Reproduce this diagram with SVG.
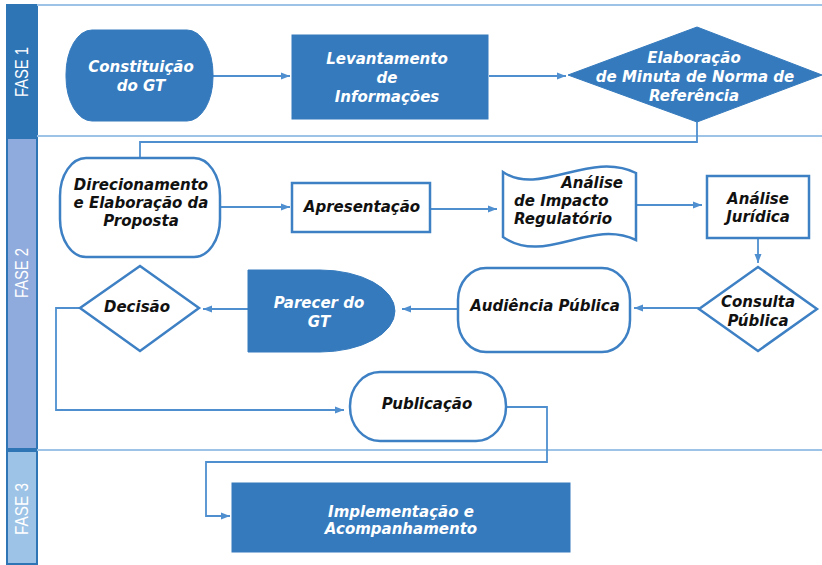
<svg xmlns="http://www.w3.org/2000/svg" width="822" height="565" viewBox="0 0 822 565">
<style>
.lane{stroke:#2E75B6;stroke-width:2}
.sep{stroke:#9DC3E6;stroke-width:2;fill:none}
.fase{font-family:'Liberation Sans Narrow','Liberation Sans',sans-serif;font-size:18px;fill:#ffffff;text-anchor:middle}
.fill{fill:#357ABD;stroke:#357ABD;stroke-width:1}
.out{fill:#ffffff;stroke:#3E80C4;stroke-width:2.5}
.tw{font-family:'DejaVu Sans',sans-serif;font-weight:bold;font-style:italic;font-size:15px;fill:#ffffff;text-anchor:middle}
.tb{font-family:'DejaVu Sans',sans-serif;font-weight:bold;font-style:italic;font-size:15px;fill:#111111;text-anchor:middle}
.con{fill:none;stroke:#4F8FD0;stroke-width:1.8}
</style>
<defs>
<marker id="arr" markerUnits="userSpaceOnUse" markerWidth="10" markerHeight="8" refX="9" refY="4" orient="auto">
<path d="M0,0.5 L9,4 L0,7.5 Z" fill="#4F8FD0"/>
</marker>
</defs>
<rect width="822" height="565" fill="#ffffff"/>
<g id="lanes">
<rect class="lane" x="7" y="5" width="30" height="131" fill="#2E75B6"/>
<rect class="lane" x="7" y="138" width="30" height="311" fill="#8FAADC"/>
<rect class="lane" x="7" y="451" width="30" height="113" fill="#9DC3E6"/>
<line class="sep" x1="37" y1="5" x2="822" y2="5"/>
<line class="sep" x1="37" y1="136" x2="822" y2="136"/>
<line class="sep" x1="37" y1="450" x2="822" y2="450"/>
<text class="fase" transform="translate(28,72) rotate(-90)" textLength="50" lengthAdjust="spacingAndGlyphs">FASE 1</text>
<text class="fase" transform="translate(28,273) rotate(-90)" textLength="50" lengthAdjust="spacingAndGlyphs">FASE 2</text>
<text class="fase" transform="translate(28,509) rotate(-90)" textLength="52" lengthAdjust="spacingAndGlyphs">FASE 3</text>
</g>
<g id="connectors">
<path class="con" d="M213,76 H290" marker-end="url(#arr)"/>
<path class="con" d="M489,76 H566" marker-end="url(#arr)"/>
<path class="con" d="M697,122 V142 H140 V158"/>
<path class="con" d="M220,207 H290" marker-end="url(#arr)"/>
<path class="con" d="M430,209 H497" marker-end="url(#arr)"/>
<path class="con" d="M636,205 H702" marker-end="url(#arr)"/>
<path class="con" d="M758,238 V263" marker-end="url(#arr)"/>
<path class="con" d="M699,308 H634" marker-end="url(#arr)"/>
<path class="con" d="M458,309 H402" marker-end="url(#arr)"/>
<path class="con" d="M248,309 H203" marker-end="url(#arr)"/>
<path class="con" d="M80,308 H56 V410 H344" marker-end="url(#arr)"/>
<path class="con" d="M506,407 H547 V462 H206 V516 H230" marker-end="url(#arr)"/>
</g>
<g id="constituicao">
<rect class="fill" x="66" y="30" width="147" height="91" rx="26" ry="44"/>
<text class="tw" x="141" y="72">Constituição</text>
<text class="tw" x="141" y="91">do GT</text>
</g>
<g id="levantamento">
<rect class="fill" x="292" y="35" width="196" height="84"/>
<text class="tw" x="387" y="64">Levantamento</text>
<text class="tw" x="387" y="83">de</text>
<text class="tw" x="387" y="102">Informações</text>
</g>
<g id="elaboracao">
<polygon class="fill" points="697,27 822,75 697,122 568,75"/>
<text class="tw" x="694" y="63">Elaboração</text>
<text class="tw" x="695" y="82">de Minuta de Norma de</text>
<text class="tw" x="694" y="101">Referência</text>
</g>
<g id="direcionamento">
<rect class="out" x="60" y="158" width="160" height="99" rx="26" ry="38"/>
<text class="tb" x="141" y="190">Direcionamento</text>
<text class="tb" x="141" y="208">e Elaboração da</text>
<text class="tb" x="141" y="226">Proposta</text>
</g>
<g id="apresentacao">
<rect class="out" x="292" y="183" width="138" height="49"/>
<text class="tb" x="362" y="212">Apresentação</text>
</g>
<g id="impacto">
<path class="out" d="M503,172 C540,197 590,150 636,173 L636,240 C590,218 545,266 503,237 Z"/>
<text class="tb" x="623" y="188" style="text-anchor:end">Análise</text>
<text class="tb" x="514" y="206" style="text-anchor:start">de Impacto</text>
<text class="tb" x="514" y="224" style="text-anchor:start">Regulatório</text>
</g>
<g id="juridica">
<rect class="out" x="707" y="176" width="102" height="62"/>
<text class="tb" x="758" y="204">Análise</text>
<text class="tb" x="758" y="222">Jurídica</text>
</g>
<g id="consulta">
<polygon class="out" points="758,267 817,309 758,351 699,309"/>
<text class="tb" x="758" y="307">Consulta</text>
<text class="tb" x="758" y="326">Pública</text>
</g>
<g id="audiencia">
<rect class="out" x="458" y="268" width="172" height="84" rx="28" ry="32"/>
<text class="tb" x="545" y="311">Audiência Pública</text>
</g>
<g id="parecer">
<path class="fill" d="M248,270 H320 A75,41 0 0 1 320,352 H248 Z"/>
<text class="tw" x="319" y="308">Parecer do</text>
<text class="tw" x="319" y="327">GT</text>
</g>
<g id="decisao">
<polygon class="out" points="140,266 199,308 140,351 80,308"/>
<text class="tb" x="137" y="312">Decisão</text>
</g>
<g id="publicacao">
<rect class="out" x="350" y="372" width="156" height="69" rx="30" ry="34"/>
<text class="tb" x="427" y="409">Publicação</text>
</g>
<g id="implementacao">
<rect class="fill" x="232" y="483" width="338" height="69"/>
<text class="tw" x="401" y="517">Implementação e</text>
<text class="tw" x="401" y="534">Acompanhamento</text>
</g>
</svg>
